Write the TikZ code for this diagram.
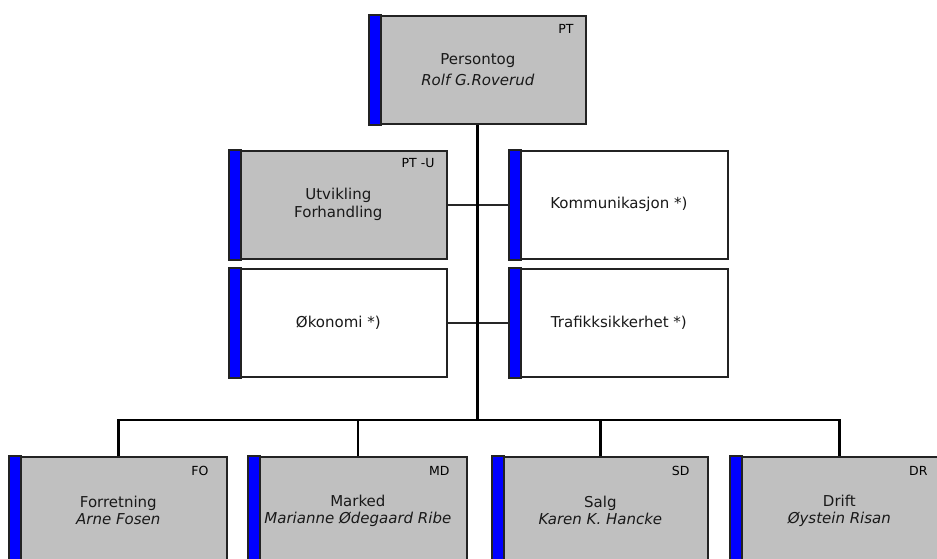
\documentclass[tikz,border=0pt]{standalone}
\usepackage{fontspec}
\setmainfont{DejaVu Sans}
\usetikzlibrary{calc}
\definecolor{boxgray}{RGB}{192,192,192}
\definecolor{barblue}{RGB}{0,0,255}
\definecolor{edgegray}{RGB}{35,35,35}
\tikzset{
  orgbox/.style={draw=edgegray, line width=1.7pt, rectangle, minimum width=217pt, minimum height=108pt, inner sep=0pt, anchor=north west, align=center, text=black!90},
  grayfill/.style={fill=boxgray},
  whitefill/.style={fill=white},
  bigtext/.style={font=\fontsize{15}{21}\selectfont},
  midtext/.style={font=\fontsize{15}{18}\selectfont},
  lowtext/.style={font=\fontsize{15}{17}\selectfont},
  codelabel/.style={font=\fontsize{12.5}{14}\selectfont, inner sep=0pt, anchor=base east, text=black},
  bar/.style={fill=barblue, draw=edgegray, line width=1.7pt},
  trunkline/.style={line width=3pt, black},
  busline/.style={line width=2.6pt, black},
  sideline/.style={line width=2pt, black!85},
}
\begin{document}
\begin{tikzpicture}[x=1pt, y=-1pt]
\useasboundingbox (0,0) rectangle (937,558);
\fill[white] (0,0) rectangle (937,558);
\clip (0,0) rectangle (937,558);

% boxes
\node[orgbox, grayfill, bigtext, minimum width=216pt] (pt) at (369,15) {Persontog\\\itshape Rolf G.Roverud};
\node[orgbox, grayfill, midtext] (ptu) at (229,150) {Utvikling\\Forhandling};
\node[orgbox, whitefill, midtext, minimum width=218pt] (kom) at (509,150) {Kommunikasjon *)};
\node[orgbox, whitefill, midtext] (oko) at (229,268) {Økonomi *)};
\node[orgbox, whitefill, midtext, minimum width=218pt] (tra) at (509,268) {Trafikksikkerhet *)};
\node[orgbox, grayfill, lowtext] (fo) at (9,456) {Forretning\\\itshape Arne Fosen};
\node[orgbox, grayfill, lowtext, minimum width=218pt] (md) at (248,456) {Marked\\\itshape Marianne Ødegaard Ribe};
\node[orgbox, grayfill, lowtext, minimum width=215pt] (sd) at (492,456) {Salg\\\itshape Karen K. Hancke};
\node[orgbox, grayfill, lowtext, minimum width=217pt] (dr) at (730,456) {Drift\\\itshape Øystein Risan};

% blue bars
\foreach \b in {pt,ptu,kom,oko,tra,fo,md,sd,dr}{
  \draw[bar] (\b.north west) rectangle ($(\b.south west)+(12,0)$);
}

% code labels
\node[codelabel] at ($(pt.north east)+(-13,18)$) {PT};
\node[codelabel] at ($(ptu.north east)+(-13,17)$) {PT -U};
\node[codelabel] at ($(fo.north east)+(-19,19)$) {FO};
\node[codelabel] at ($(md.north east)+(-18,19)$) {MD};
\node[codelabel] at ($(sd.north east)+(-19,19)$) {SD};
\node[codelabel] at ($(dr.north east)+(-21,19)$) {DR};

% connectors
\coordinate (bus) at (pt.south |- 0,420);
\draw[sideline] (ptu.east) -- (kom.west);
\draw[sideline] (oko.east) -- (tra.west);
\draw[trunkline] (pt.south) -- (bus);
\draw[busline] (fo.north) |- (bus) -| (dr.north);
\draw[busline] (md.north) -- (md.north |- bus);
\draw[busline] (sd.north) -- (sd.north |- bus);
\end{tikzpicture}
\end{document}
